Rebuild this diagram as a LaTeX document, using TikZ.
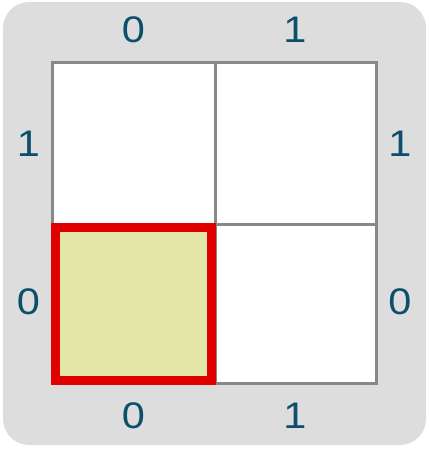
\documentclass[tikz,border=0pt]{standalone}
\usepackage{fontspec}
\setmainfont{Liberation Sans}
\definecolor{bgg}{HTML}{DDDDDD}
\definecolor{gridg}{HTML}{888888}
\definecolor{lab}{HTML}{0B4F6C}
\definecolor{redb}{HTML}{E00000}
\definecolor{yel}{HTML}{E3E8A9}
\newcommand{\wdig}[1]{\scalebox{1.12}[1]{#1}}
\begin{document}
\begin{tikzpicture}[x=1pt,y=-1pt,
  lbl/.style={text=lab,font=\fontsize{37}{37}\selectfont,inner sep=0pt},
  gridline/.style={draw=gridg,line width=3pt}]
\useasboundingbox (0,0) rectangle (430,449);
\fill[bgg,rounded corners=26pt] (3,2) rectangle (426,445);
\fill[white] (52.5,62.5) rectangle (376.3,383);
\draw[gridline] (52.5,62.5) rectangle (376.3,383);
\draw[gridline] (215,62.5) -- (215,383);
\draw[gridline] (52.5,224) -- (376.3,224);
\draw[draw=redb,fill=yel,line width=9pt] (55.5,227.8) rectangle (211,380);
\node[lbl] (t0) at (133.3,30) {\wdig{0}};
\node[lbl] (t1) at (295,30) {\wdig{1}};
\node[lbl] (l1) at (28.3,144) {\wdig{1}};
\node[lbl] (l0) at (28.3,302) {\wdig{0}};
\node[lbl] (r1) at (400,144) {\wdig{1}};
\node[lbl] (r0) at (400,302) {\wdig{0}};
\node[lbl] (b0) at (133.3,415.5) {\wdig{0}};
\node[lbl] (b1) at (295,415.5) {\wdig{1}};
\end{tikzpicture}
\end{document}
